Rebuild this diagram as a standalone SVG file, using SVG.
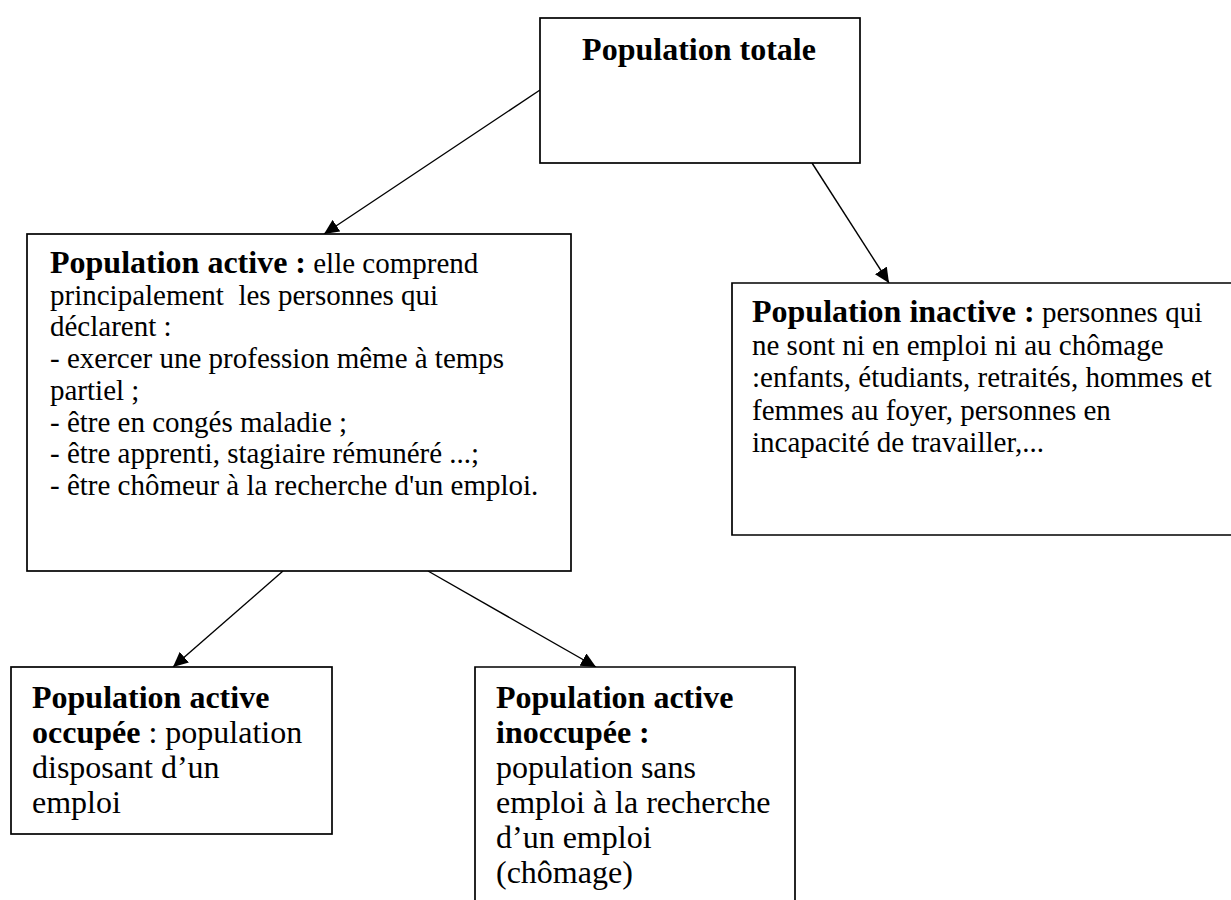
<svg xmlns="http://www.w3.org/2000/svg" width="1231" height="900" viewBox="0 0 1231 900">
<style>
.box{fill:#fff;stroke:#000;stroke-width:1.7}
.edge{fill:none;stroke:#000;stroke-width:1.4}
text{font-family:"Liberation Serif","Times New Roman",serif;fill:#000;white-space:pre}
.b{font-weight:bold;font-size:32px}
.r{font-size:29px}
.r3{font-size:32px}
</style>
<defs>
<marker id="arr" markerUnits="userSpaceOnUse" markerWidth="16" markerHeight="14" refX="15" refY="7" orient="auto">
<path d="M0,0 L15,7 L0,14 z" fill="#000"/>
</marker>
</defs>
<rect width="1231" height="900" fill="#fff"/>
<g id="connectors">
<line class="edge" x1="540" y1="90" x2="324" y2="234" marker-end="url(#arr)"/>
<line class="edge" x1="812" y1="163" x2="889" y2="283" marker-end="url(#arr)"/>
<line class="edge" x1="283" y1="571" x2="173" y2="667" marker-end="url(#arr)"/>
<line class="edge" x1="428" y1="571" x2="596" y2="667" marker-end="url(#arr)"/>
</g>
<g id="node-totale">
<rect class="box" x="540" y="18" width="320" height="145"/>
<text class="b" x="699" y="60" text-anchor="middle">Population totale</text>
</g>
<g id="node-active">
<rect class="box" x="27" y="234" width="544" height="337"/>
<text x="50" y="273"><tspan class="b">Population active :</tspan><tspan class="r"> elle comprend</tspan></text>
<text class="r" x="50" y="304.7">principalement  les personnes qui</text>
<text class="r" x="50" y="336.4">déclarent :</text>
<text class="r" x="50" y="368.1">- exercer une profession même à temps</text>
<text class="r" x="50" y="399.8">partiel ;</text>
<text class="r" x="50" y="431.5">- être en congés maladie ;</text>
<text class="r" x="50" y="463.2">- être apprenti, stagiaire rémunéré ...;</text>
<text class="r" x="50" y="494.9">- être chômeur à la recherche d'un emploi.</text>
</g>
<g id="node-inactive">
<path class="box" d="M1240,283 L732,283 L732,535 L1240,535"/>
<text x="752" y="322"><tspan class="b">Population inactive :</tspan><tspan class="r"> personnes qui</tspan></text>
<text class="r" x="752" y="354.5">ne sont ni en emploi ni au chômage</text>
<text class="r" x="752" y="387">:enfants, étudiants, retraités, hommes et</text>
<text class="r" x="752" y="419.5">femmes au foyer, personnes en</text>
<text class="r" x="752" y="452">incapacité de travailler,...</text>
</g>
<g id="node-occupee">
<rect class="box" x="11" y="667" width="321" height="167"/>
<text class="b" x="32" y="708">Population active</text>
<text x="32" y="743"><tspan class="b">occupée</tspan><tspan class="r3"> : population</tspan></text>
<text class="r3" x="32" y="778">disposant d’un</text>
<text class="r3" x="32" y="813">emploi</text>
</g>
<g id="node-inoccupee">
<path class="box" d="M475,905 L475,667 L795,667 L795,905"/>
<text class="b" x="496" y="708">Population active</text>
<text class="b" x="496" y="743">inoccupée :</text>
<text class="r3" x="496" y="778">population sans</text>
<text class="r3" x="496" y="813">emploi à la recherche</text>
<text class="r3" x="496" y="848">d’un emploi</text>
<text class="r3" x="496" y="883">(chômage)</text>
</g>
</svg>
